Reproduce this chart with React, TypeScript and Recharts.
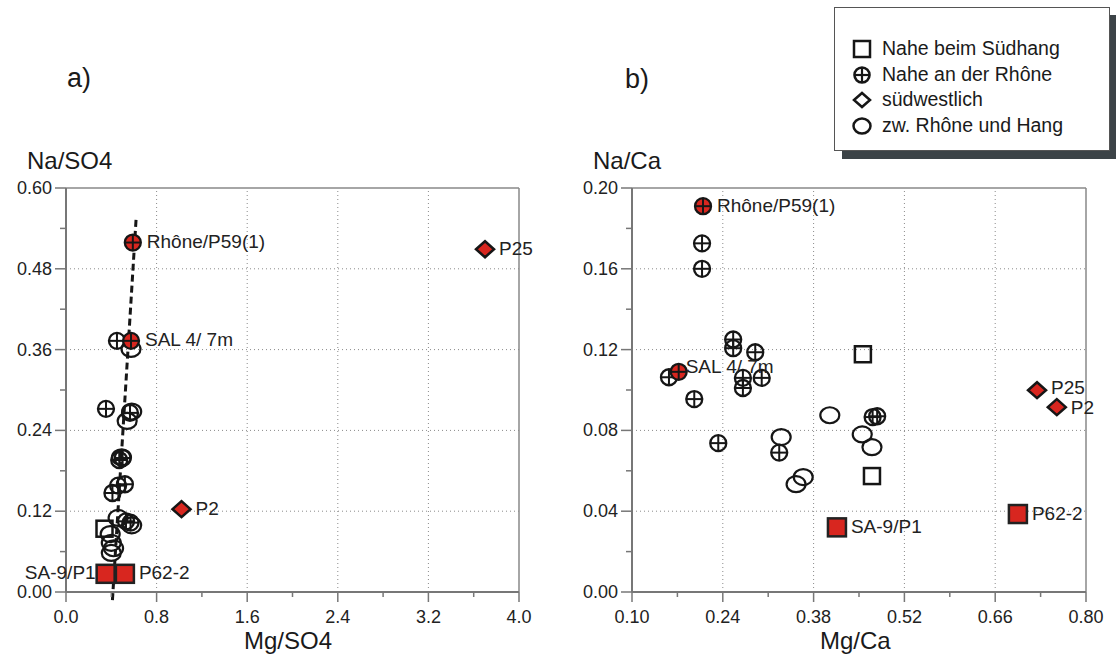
import { ScatterChart, Scatter, XAxis, YAxis, ReferenceLine } from 'recharts'

type Pt = { x: number; y: number; label?: string }

// a) Na/SO4 über Mg/SO4
const aSquareOpen: Pt[] = [{ x: 0.34, y: 0.094 }]
const aSquareRed: Pt[] = [
  { x: 0.35, y: 0.027, label: 'SA-9/P1' },
  { x: 0.52, y: 0.027, label: 'P62-2' },
]
const aCross: Pt[] = [
  { x: 0.45, y: 0.373 },
  { x: 0.353, y: 0.272 },
  { x: 0.565, y: 0.266 },
  { x: 0.5, y: 0.199 },
  { x: 0.47, y: 0.196 },
  { x: 0.52, y: 0.16 },
  { x: 0.46, y: 0.158 },
  { x: 0.41, y: 0.147 },
  { x: 0.57, y: 0.103 },
  { x: 0.53, y: 0.105 },
]
const aCrossRed: Pt[] = [
  { x: 0.59, y: 0.519, label: 'Rhône/P59(1)' },
  { x: 0.574, y: 0.373, label: 'SAL 4/ 7m' },
]
const aDiamond: Pt[] = [
  { x: 3.7, y: 0.509, label: 'P25' },
  { x: 1.02, y: 0.123, label: 'P2' },
]
const aCircle: Pt[] = [
  { x: 0.574, y: 0.361 },
  { x: 0.58, y: 0.268 },
  { x: 0.54, y: 0.254 },
  { x: 0.49, y: 0.2 },
  { x: 0.46, y: 0.11 },
  { x: 0.58, y: 0.099 },
  { x: 0.39, y: 0.086 },
  { x: 0.4, y: 0.073 },
  { x: 0.42, y: 0.065 },
  { x: 0.4, y: 0.058 },
]
const aTrend = [
  { x: 0.41, y: -0.012 },
  { x: 0.62, y: 0.557 },
]
const aXTicks = [0, 0.4, 0.8, 1.2, 1.6, 2.0, 2.4, 2.8, 3.2, 3.6, 4.0]
const aXMajor = [0, 0.8, 1.6, 2.4, 3.2, 4.0]
const aYTicks = [0, 0.06, 0.12, 0.18, 0.24, 0.3, 0.36, 0.42, 0.48, 0.54, 0.6]
const aYMajor = [0, 0.12, 0.24, 0.36, 0.48, 0.6]

// b) Na/Ca über Mg/Ca
const bSquareOpen: Pt[] = [
  { x: 0.456, y: 0.1177 },
  { x: 0.47, y: 0.0574 },
]
const bSquareRed: Pt[] = [
  { x: 0.416, y: 0.032, label: 'SA-9/P1' },
  { x: 0.695, y: 0.0386, label: 'P62-2' },
]
const bCross: Pt[] = [
  { x: 0.208, y: 0.1726 },
  { x: 0.208, y: 0.16 },
  { x: 0.256, y: 0.125 },
  { x: 0.256, y: 0.1207 },
  { x: 0.29, y: 0.1187 },
  { x: 0.157, y: 0.1063 },
  { x: 0.271, y: 0.106 },
  { x: 0.271, y: 0.101 },
  { x: 0.3, y: 0.106 },
  { x: 0.196, y: 0.0955 },
  { x: 0.233, y: 0.0737 },
  { x: 0.327, y: 0.069 },
  { x: 0.471, y: 0.0866 },
  { x: 0.478, y: 0.087 },
]
const bCrossRed: Pt[] = [
  { x: 0.2095, y: 0.191, label: 'Rhône/P59(1)' },
  { x: 0.172, y: 0.109, label: 'SAL 4/ 7m' },
]
const bDiamond: Pt[] = [
  { x: 0.7245, y: 0.0999, label: 'P25' },
  { x: 0.755, y: 0.0915, label: 'P2' },
]
const bCircle: Pt[] = [
  { x: 0.33, y: 0.0767 },
  { x: 0.353, y: 0.0534 },
  { x: 0.364, y: 0.0569 },
  { x: 0.405, y: 0.0875 },
  { x: 0.455, y: 0.078 },
  { x: 0.47, y: 0.0717 },
]
const bXTicks = [0.1, 0.17, 0.24, 0.31, 0.38, 0.45, 0.52, 0.59, 0.66, 0.73, 0.8]
const bXMajor = [0.1, 0.24, 0.38, 0.52, 0.66, 0.8]
const bYTicks = [0, 0.02, 0.04, 0.06, 0.08, 0.1, 0.12, 0.14, 0.16, 0.18, 0.2]
const bYMajor = [0, 0.04, 0.08, 0.12, 0.16, 0.2]

const legendItems = ['Nahe beim Südhang', 'Nahe an der Rhône', 'südwestlich', 'zw. Rhône und Hang']

const RED = '#d8261f'
const INK = '#161616'
const AXIS = '#777'
const FONT = 'Arial, "Liberation Sans", Helvetica, sans-serif'

// label placement tweaks (chart:label)
const LABEL_LEFT = ['a:SA-9/P1']
const NUDGE: Record<string, [number, number]> = {
  'b:SAL 4/ 7m': [-7, -4],
  'b:P25': [0, -2],
  'b:P2': [0, 1],
}

const isIn = (list: number[], v: number) => list.some((m) => Math.abs(m - v) < 1e-9)

const pointLabel = (chart: string, cx: number, cy: number, label?: string) => {
  if (!label) return null
  const key = `${chart}:${label}`
  const left = LABEL_LEFT.includes(key)
  const [dx, dy] = NUDGE[key] ?? [0, 0]
  return (
    <text
      x={left ? cx - 10 : cx + 14 + dx}
      y={cy - 1 + dy}
      textAnchor={left ? 'end' : 'start'}
      dominantBaseline="central"
      fontSize={19}
      fontFamily={FONT}
      fill="#222"
    >
      {label}
    </text>
  )
}

const circleShape = (props: any) => (
  <ellipse cx={props.cx} cy={props.cy} rx={9.5} ry={8} fill="none" stroke={INK} strokeWidth={2.2} />
)

const crossShape = (chart: string, red: boolean) => (props: any) => {
  const { cx, cy, payload } = props
  return (
    <g>
      <circle cx={cx} cy={cy} r={8} fill={red ? RED : 'none'} stroke={INK} strokeWidth={2.3} />
      <line x1={cx - 8} x2={cx + 8} y1={cy} y2={cy} stroke={INK} strokeWidth={2} />
      <line x1={cx} x2={cx} y1={cy - 8} y2={cy + 8} stroke={INK} strokeWidth={2} />
      {pointLabel(chart, cx, cy, payload?.label)}
    </g>
  )
}

const squareShape = (chart: string, red: boolean) => (props: any) => {
  const { cx, cy, payload } = props
  const s = red ? 18 : 16
  return (
    <g>
      <rect
        x={cx - s / 2}
        y={cy - s / 2}
        width={s}
        height={s}
        fill={red ? RED : 'none'}
        stroke={red ? '#222' : INK}
        strokeWidth={2.5}
      />
      {pointLabel(chart, cx, cy, payload?.label)}
    </g>
  )
}

const diamondShape = (chart: string) => (props: any) => {
  const { cx, cy, payload } = props
  return (
    <g>
      <path
        d={`M${cx - 9},${cy} L${cx},${cy - 8} L${cx + 9},${cy} L${cx},${cy + 8} Z`}
        fill={RED}
        stroke={INK}
        strokeWidth={2.5}
        strokeLinejoin="miter"
      />
      {pointLabel(chart, cx, cy, payload?.label)}
    </g>
  )
}

const yTick = (majors: number[], digits: number) => (props: any) => {
  const { x, y, payload } = props
  const major = isIn(majors, payload.value)
  return (
    <g>
      <line x1={x} x2={x - (major ? 11 : 6)} y1={y} y2={y} stroke={AXIS} strokeWidth={1.5} />
      {major && (
        <text x={x - 14} y={y} textAnchor="end" dominantBaseline="central" fontSize={18} fontFamily={FONT} fill="#222">
          {payload.value.toFixed(digits)}
        </text>
      )}
    </g>
  )
}

const xTick = (majors: number[], digits: number) => (props: any) => {
  const { x, y, payload } = props
  const major = isIn(majors, payload.value)
  return (
    <g>
      <line x1={x} x2={x} y1={y} y2={y + (major ? 10 : 5)} stroke={AXIS} strokeWidth={1.5} />
      {major && (
        <text x={x} y={y + 31} textAnchor="middle" fontSize={18} fontFamily={FONT} fill="#222">
          {payload.value.toFixed(digits)}
        </text>
      )}
    </g>
  )
}

const gridLine = { stroke: '#8a8a8a', strokeDasharray: '1 3', strokeWidth: 1 }

type PanelProps = {
  chart: string
  width: number
  margin: { top: number; right: number; bottom: number; left: number }
  xDomain: [number, number]
  yDomain: [number, number]
  xTicks: number[]
  xMajor: number[]
  yTicks: number[]
  yMajor: number[]
  xDigits: number
  yDigits: number
  circle: Pt[]
  cross: Pt[]
  crossRed: Pt[]
  squareOpen: Pt[]
  squareRed: Pt[]
  diamond: Pt[]
  trend?: { x: number; y: number }[]
}

const Panel = (p: PanelProps) => {
  const innerX = p.xMajor.filter((v) => v !== p.xDomain[0] && v !== p.xDomain[1])
  const innerY = p.yMajor.filter((v) => v !== p.yDomain[0] && v !== p.yDomain[1])
  return (
    <ScatterChart width={p.width} height={659} margin={p.margin}>
      <XAxis
        type="number"
        dataKey="x"
        domain={p.xDomain}
        ticks={p.xTicks}
        interval={0}
        tickSize={0}
        tickMargin={0}
        height={30}
        axisLine={{ stroke: AXIS, strokeWidth: 2 }}
        tick={xTick(p.xMajor, p.xDigits)}
      />
      <YAxis
        type="number"
        dataKey="y"
        domain={p.yDomain}
        ticks={p.yTicks}
        interval={0}
        tickSize={0}
        tickMargin={0}
        width={60}
        axisLine={{ stroke: AXIS, strokeWidth: 2 }}
        tick={yTick(p.yMajor, p.yDigits)}
      />
      {innerX.map((v) => (
        <ReferenceLine key={`gx${v}`} x={v} {...gridLine} />
      ))}
      {innerY.map((v) => (
        <ReferenceLine key={`gy${v}`} y={v} {...gridLine} />
      ))}
      <ReferenceLine x={p.xDomain[1]} stroke="#888" strokeWidth={1.5} />
      <ReferenceLine y={p.yDomain[1]} stroke="#888" strokeWidth={1.5} />
      {p.trend && (
        <ReferenceLine
          segment={p.trend}
          ifOverflow="visible"
          stroke={INK}
          strokeWidth={3}
          strokeDasharray="7 4"
        />
      )}
      <Scatter data={p.circle} shape={circleShape} isAnimationActive={false} />
      <Scatter data={p.cross} shape={crossShape(p.chart, false)} isAnimationActive={false} />
      <Scatter data={p.squareOpen} shape={squareShape(p.chart, false)} isAnimationActive={false} />
      <Scatter data={p.squareRed} shape={squareShape(p.chart, true)} isAnimationActive={false} />
      <Scatter data={p.diamond} shape={diamondShape(p.chart)} isAnimationActive={false} />
      <Scatter data={p.crossRed} shape={crossShape(p.chart, true)} isAnimationActive={false} />
    </ScatterChart>
  )
}

const txt = (extra: React.CSSProperties): React.CSSProperties => ({
  position: 'absolute',
  fontFamily: FONT,
  color: '#1a1a1a',
  lineHeight: 1,
  whiteSpace: 'nowrap',
  ...extra,
})

const LegendIcon = ({ i }: { i: number }) => (
  <svg width={22} height={22} style={{ display: 'block' }}>
    {i === 0 && <rect x={3} y={3} width={16} height={16} fill="none" stroke={INK} strokeWidth={2.5} />}
    {i === 1 && (
      <g>
        <circle cx={11} cy={11} r={7.5} fill="none" stroke={INK} strokeWidth={2.6} />
        <line x1={3} x2={19} y1={11} y2={11} stroke={INK} strokeWidth={2.2} />
        <line x1={11} x2={11} y1={3} y2={19} stroke={INK} strokeWidth={2.2} />
      </g>
    )}
    {i === 2 && <path d="M3,11 L11,4 L19,11 L11,18 Z" fill="none" stroke={INK} strokeWidth={2.5} />}
    {i === 3 && <ellipse cx={11} cy={11} rx={8.5} ry={7.5} fill="none" stroke={INK} strokeWidth={2.5} />}
  </svg>
)

export default function App() {
  return (
    <div style={{ position: 'absolute', left: 0, top: 0, width: 1116, height: 659, background: '#fff', overflow: 'hidden' }}>
      <div style={{ position: 'absolute', left: 0, top: 0 }}>
        <Panel
          chart="a"
          width={540}
          margin={{ top: 188, right: 21, bottom: 37, left: 6 }}
          xDomain={[0, 4]}
          yDomain={[0, 0.6]}
          xTicks={aXTicks}
          xMajor={aXMajor}
          yTicks={aYTicks}
          yMajor={aYMajor}
          xDigits={1}
          yDigits={2}
          circle={aCircle}
          cross={aCross}
          crossRed={aCrossRed}
          squareOpen={aSquareOpen}
          squareRed={aSquareRed}
          diamond={aDiamond}
          trend={aTrend}
        />
      </div>
      <div style={{ position: 'absolute', left: 560, top: 0 }}>
        <Panel
          chart="b"
          width={556}
          margin={{ top: 188, right: 30, bottom: 37, left: 12 }}
          xDomain={[0.1, 0.8]}
          yDomain={[0, 0.2]}
          xTicks={bXTicks}
          xMajor={bXMajor}
          yTicks={bYTicks}
          yMajor={bYMajor}
          xDigits={2}
          yDigits={2}
          circle={bCircle}
          cross={bCross}
          crossRed={bCrossRed}
          squareOpen={bSquareOpen}
          squareRed={bSquareRed}
          diamond={bDiamond}
        />
      </div>

      <div style={txt({ left: 67, top: 65, fontSize: 27 })}>a)</div>
      <div style={txt({ left: 625, top: 66, fontSize: 27 })}>b)</div>
      <div style={txt({ left: 27, top: 149, fontSize: 24 })}>Na/SO4</div>
      <div style={txt({ left: 593, top: 149, fontSize: 24 })}>Na/Ca</div>
      <div style={txt({ left: 244, top: 629, fontSize: 24 })}>Mg/SO4</div>
      <div style={txt({ left: 820, top: 629, fontSize: 24 })}>Mg/Ca</div>

      <div
        style={{
          position: 'absolute',
          left: 834,
          top: 7,
          width: 274,
          height: 142,
          background: '#fff',
          border: '1px solid #555',
          boxShadow: '8px 8px 0 #3c4347',
        }}
      >
        {legendItems.map((name, i) => (
          <div
            key={name}
            style={{
              position: 'absolute',
              left: 16,
              top: [29, 55, 80, 106][i],
              display: 'flex',
              alignItems: 'center',
              gap: 9,
            }}
          >
            <LegendIcon i={i} />
            <span style={{ fontFamily: FONT, fontSize: 19.5, color: '#1a1a1a' }}>{name}</span>
          </div>
        ))}
      </div>
    </div>
  )
}
